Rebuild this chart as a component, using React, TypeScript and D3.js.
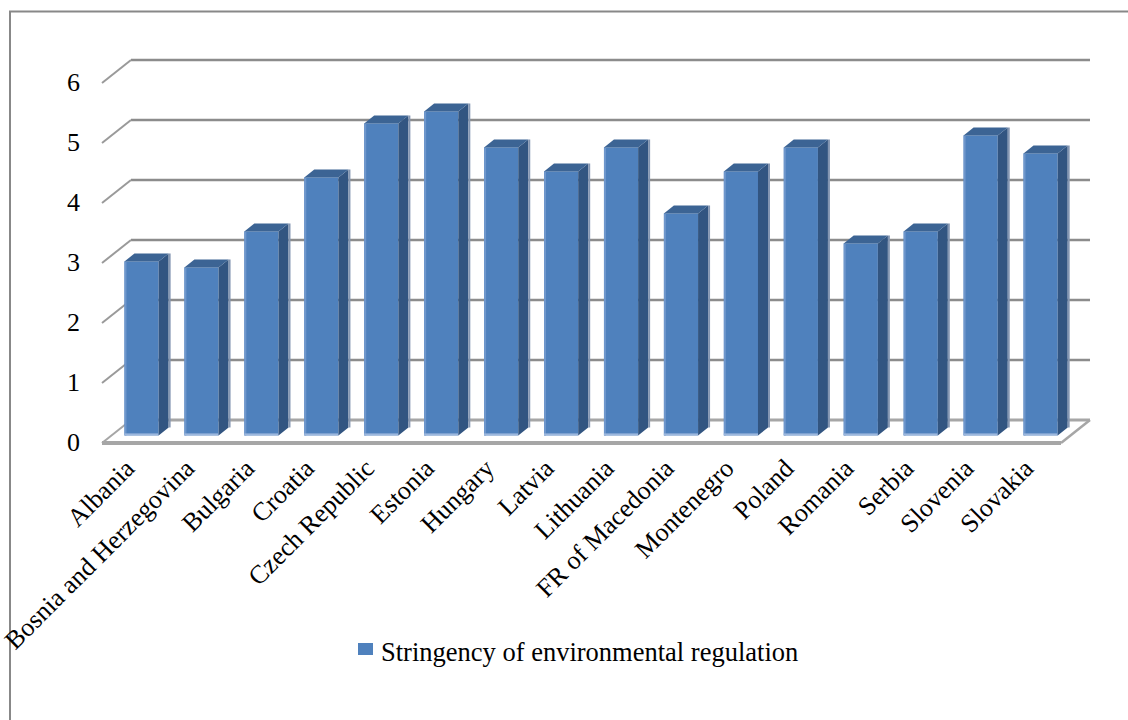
import { scaleBand, scaleLinear } from "d3";

const countries = [
  "Albania",
  "Bosnia and Herzegovina",
  "Bulgaria",
  "Croatia",
  "Czech Republic",
  "Estonia",
  "Hungary",
  "Latvia",
  "Lithuania",
  "FR of Macedonia",
  "Montenegro",
  "Poland",
  "Romania",
  "Serbia",
  "Slovenia",
  "Slovakia",
];
const stringency = [2.9, 2.8, 3.4, 4.3, 5.2, 5.4, 4.8, 4.4, 4.8, 3.7, 4.4, 4.8, 3.2, 3.4, 5.0, 4.7];
const yTicks = [0, 1, 2, 3, 4, 5, 6];
const seriesName = "Stringency of environmental regulation";

const W = 1128;
const H = 720;
const FONT = "'Liberation Serif', 'Times New Roman', serif";
// oblique depth of the 3D box
const DX = 29;
const DY = -23;
// bar sits between these depth fractions
const F1 = 0.33;
const F2 = 0.675;

export default function App() {
  const x = scaleBand<string>()
    .domain(countries)
    .range([102, 1061])
    .paddingInner(0.43)
    .paddingOuter(0.215);
  const y = scaleLinear().domain([0, 6]).range([443, 83]);
  const band = scaleBand<string>().domain(countries).range([102, 1061]);

  const bars = countries.map((c, i) => {
    const v = stringency[i];
    const x0 = (x(c) as number) + DX * F1;
    const x1 = x0 + x.bandwidth();
    const yb = y(0) + DY * F1;
    const yt = y(v) + DY * F1;
    const ox = DX * (F2 - F1);
    const oy = DY * (F2 - F1);
    return (
      <g key={c}>
        <rect x={x0} y={yt} width={x1 - x0} height={yb - yt} fill="#4F81BD" />
        <rect x={x0} y={yt} width={2} height={yb - yt} fill="#6F97CC" />
        <rect x={x0} y={yb - 2} width={x1 - x0} height={2} fill="#9DB8DE" />
        <polygon
          points={`${x1},${yt} ${x1 + ox},${yt + oy} ${x1 + ox},${yb + oy} ${x1},${yb}`}
          fill="#325581"
        />
        <line
          x1={x1 + ox + 1}
          y1={yt + oy}
          x2={x1 + ox + 1}
          y2={yb + oy}
          stroke="#8496B2"
          strokeWidth={2}
        />
        <polygon
          points={`${x0},${yt} ${x0 + ox},${yt + oy} ${x1 + ox},${yt + oy} ${x1},${yt}`}
          fill="#3C6494"
        />
      </g>
    );
  });

  const xl = 102;
  const xr = 1061;

  return (
    <div style={{ position: "absolute", left: 0, top: 0 }}>
      <svg width={W} height={H} style={{ display: "block", background: "#fff" }}>
        <rect x={10} y={11.5} width={1200} height={800} fill="none" stroke="#888" strokeWidth={2} />

        {/* back wall gridlines and side wall diagonals */}
        {yTicks.map((t) => (
          <g key={t}>
            <line
              x1={xl + DX}
              x2={xr + DX}
              y1={y(t) + DY}
              y2={y(t) + DY}
              stroke={t === 0 ? "#A6A6A6" : "#8C8C8C"}
              strokeWidth={t === 0 ? 3 : 2.5}
            />
            <line
              x1={xl}
              y1={y(t)}
              x2={xl + DX}
              y2={y(t) + DY}
              stroke={t === 0 ? "#A6A6A6" : "#9A9A9A"}
              strokeWidth={2}
            />
            <text
              x={80}
              y={y(t) + 2}
              textAnchor="end"
              dominantBaseline="middle"
              fontFamily={FONT}
              fontSize={26}
              fill="#000"
            >
              {t}
            </text>
          </g>
        ))}

        {/* floor front edge */}
        <line x1={xl} x2={xr} y1={y(0)} y2={y(0)} stroke="#A6A6A6" strokeWidth={4} />
        <line x1={xr} y1={y(0)} x2={xr + DX} y2={y(0) + DY} stroke="#A6A6A6" strokeWidth={2.5} />

        {bars}

        {countries.map((c) => {
          const ax = (band(c) as number) + band.bandwidth() / 2 + 4;
          const ay = 470;
          return (
            <text
              key={c}
              x={ax}
              y={ay}
              transform={`rotate(-45 ${ax} ${ay})`}
              textAnchor="end"
              fontFamily={FONT}
              fontSize={26}
              fill="#000"
            >
              {c}
            </text>
          );
        })}

        <rect x={358} y={643} width={15} height={12} fill="#4F81BD" />
        <text x={381} y={661} fontFamily={FONT} fontSize={26.5} fill="#000">
          {seriesName}
        </text>
      </svg>
    </div>
  );
}
